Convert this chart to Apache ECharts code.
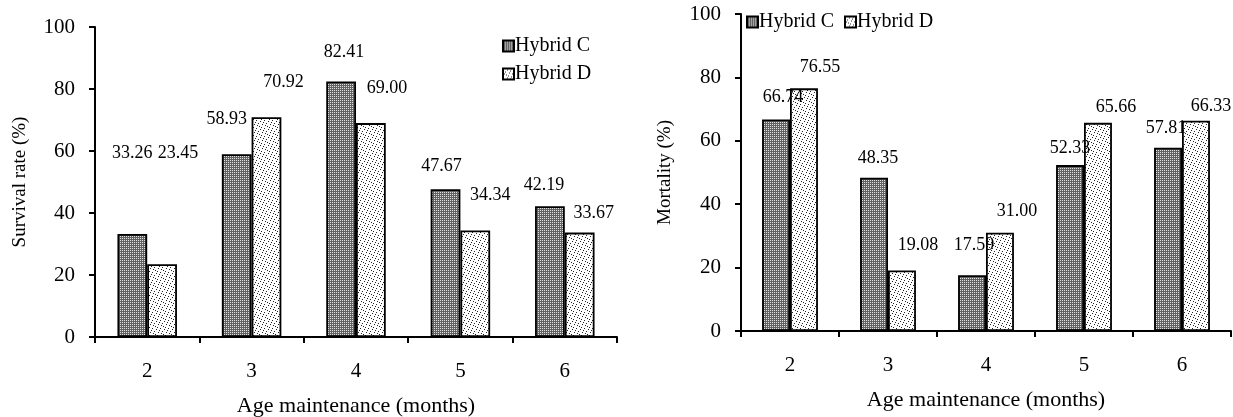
<!DOCTYPE html>
<html>
<head>
<meta charset="utf-8">
<script src="https://cdn.jsdelivr.net/npm/echarts@6/dist/echarts.min.js"></script>
<style>
  html, body { margin: 0; padding: 0; background: #fff; }
  #chart { width: 1233px; height: 417px; }
</style>
</head>
<body>
<div id="chart"></div>
<script>
// data
var months = ['2', '3', '4', '5', '6'];
var survivalC = [33.26, 58.93, 82.41, 47.67, 42.19];
var survivalD = [23.45, 70.92, 69.00, 34.34, 33.67];
var mortalityC = [66.74, 48.35, 17.59, 52.33, 57.81];
var mortalityD = [76.55, 19.08, 31.00, 65.66, 66.33];

// label nudges (the labels were moved by hand in the original)
var survivalCOffset = [[0, -67], [-10, -21], [3, -15], [-4, -9], [-6, -7]];
var survivalDOffset = [[16, -97], [17, -21], [16, -21], [15, -21], [14, -5]];
var mortalityCOffset = [[7, -8], [4, -5], [2, -16], [0, -3], [-2, -5]];
var mortalityDOffset = [[16, -7], [16, -11], [17, -7], [18, -2], [15, 0]];

var FONT = 'Liberation Serif';

// fill patterns
function makePattern(size, bg, dots, dotColor) {
    var c = document.createElement('canvas');
    c.width = size; c.height = size;
    var ctx = c.getContext('2d');
    ctx.fillStyle = bg;
    ctx.fillRect(0, 0, size, size);
    ctx.fillStyle = dotColor;
    dots.forEach(function (d) { ctx.fillRect(d[0], d[1], 1, 1); });
    return c;
}
var patC = makePattern(2, '#626262', [[0, 0]], '#e2e2e2');
var patD = makePattern(8, '#ffffff',
    [[0, 0], [4, 1], [2, 3], [6, 4], [1, 5], [5, 7], [3, 6], [7, 2]], '#222');

function withOffsets(values, offsets) {
    return values.map(function (v, i) {
        return { value: v, label: { offset: offsets[i] } };
    });
}

function barSeries(name, values, offsets, pattern, axisIndex) {
    return {
        name: name,
        type: 'bar',
        xAxisIndex: axisIndex,
        yAxisIndex: axisIndex,
        barGap: '0%',
        barCategoryGap: '43%',
        data: withOffsets(values, offsets),
        itemStyle: {
            color: { image: pattern, repeat: 'repeat' },
            borderColor: '#000',
            borderWidth: 1.8
        },
        label: {
            show: true,
            position: 'top',
            distance: 5,
            color: '#000',
            fontFamily: FONT,
            fontSize: 18,
            formatter: function (p) { return p.value.toFixed(2); }
        }
    };
}

var axisLine = { lineStyle: { color: '#000', width: 2 } };
var axisTick = { show: true, inside: false, length: 6, lineStyle: { color: '#000', width: 2 } };

function xAxisCfg(idx) {
    return {
        type: 'category',
        gridIndex: idx,
        data: months,
        name: 'Age maintenance (months)',
        nameLocation: 'middle',
        nameGap: 58,
        nameTextStyle: { fontFamily: FONT, fontSize: 22, color: '#000' },
        axisLine: axisLine,
        axisTick: axisTick,
        axisLabel: { fontFamily: FONT, fontSize: 21, color: '#000', margin: 24 }
    };
}

function yAxisCfg(idx, name, nameGap) {
    return {
        type: 'value',
        gridIndex: idx,
        min: 0,
        max: 100,
        interval: 20,
        name: name,
        nameLocation: 'middle',
        nameGap: nameGap,
        nameTextStyle: { fontFamily: FONT, fontSize: 19, color: '#000' },
        axisLine: { show: true, lineStyle: { color: '#000', width: 2 } },
        axisTick: axisTick,
        splitLine: { show: false },
        axisLabel: { fontFamily: FONT, fontSize: 21, color: '#000', margin: 20 }
    };
}

var legendText = { fontFamily: FONT, fontSize: 20, color: '#000', padding: [0, 0, 0, -4] };

var chart = echarts.init(document.getElementById('chart'), null, { renderer: 'canvas' });

chart.setOption({
    animation: false,
    backgroundColor: '#fff',
    grid: [
        { left: 95, top: 27, width: 522, height: 310, outerBoundsMode: 'none' },
        { left: 741, top: 14, width: 490, height: 317, outerBoundsMode: 'none' }
    ],
    legend: [
        {
            data: ['Hybrid C', 'Hybrid D'],
            orient: 'vertical',
            left: 497,
            top: 31,
            itemGap: 8,
            itemWidth: 11,
            itemHeight: 11,
            icon: 'rect',
            textStyle: legendText
        },
        {
            data: ['Hybrid C ', 'Hybrid D '],
            orient: 'horizontal',
            left: 741,
            top: 7,
            itemGap: 10,
            itemWidth: 11,
            itemHeight: 11,
            icon: 'rect',
            formatter: function (n) { return n.trim(); },
            textStyle: legendText
        }
    ],
    xAxis: [xAxisCfg(0), xAxisCfg(1)],
    yAxis: [yAxisCfg(0, 'Survival rate (%)', 65), yAxisCfg(1, 'Mortality (%)', 66)],
    series: [
        barSeries('Hybrid C', survivalC, survivalCOffset, patC, 0),
        barSeries('Hybrid D', survivalD, survivalDOffset, patD, 0),
        barSeries('Hybrid C ', mortalityC, mortalityCOffset, patC, 1),
        barSeries('Hybrid D ', mortalityD, mortalityDOffset, patD, 1)
    ]
});
</script>
</body>
</html>
